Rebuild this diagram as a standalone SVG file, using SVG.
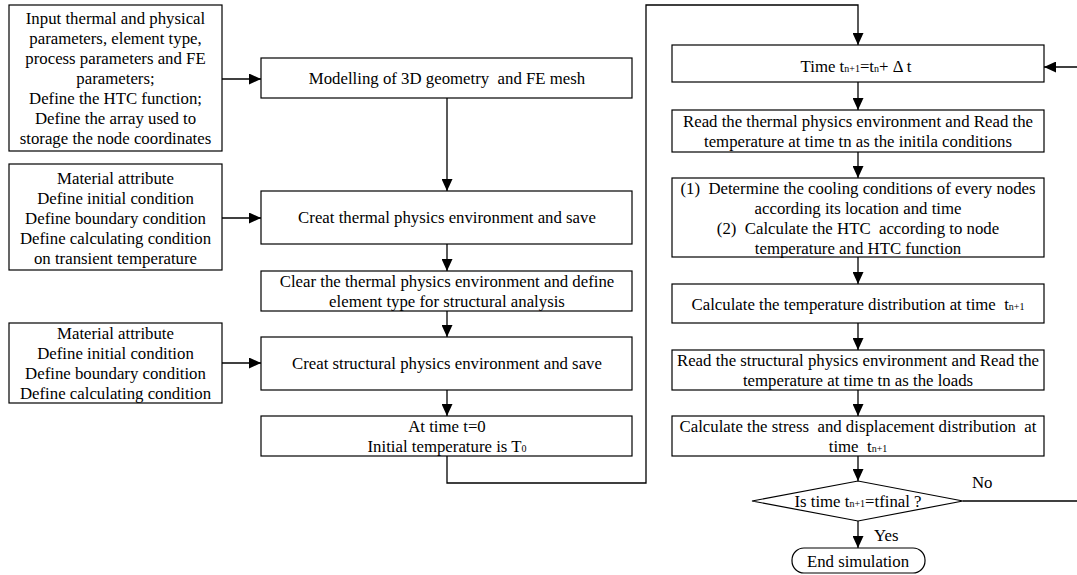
<svg xmlns="http://www.w3.org/2000/svg" width="1077" height="575" viewBox="0 0 1077 575">
<style>
  .box { fill: #ffffff; stroke: #000000; stroke-width: 1.2; }
  .t { font-family: 'Liberation Serif', 'Times New Roman', Times, 'DejaVu Serif', serif; font-size: 16.8px; fill: #000000; text-anchor: middle; }
  .l { font-family: 'Liberation Serif', 'Times New Roman', Times, 'DejaVu Serif', serif; font-size: 16.8px; fill: #000000; }
  .sub { font-size: 10px; }
  .conn { fill: none; stroke: #000000; stroke-width: 1.3; }
</style>
<defs>
  <marker id="arr" markerUnits="userSpaceOnUse" markerWidth="12" markerHeight="11" refX="12" refY="5.5" orient="auto">
    <path d="M0,0 L12,5.5 L0,11 z" fill="#000000"/>
  </marker>
</defs>
<rect width="1077" height="575" fill="#ffffff"/>

<g id="connectors">
  <line class="conn" x1="222" y1="79" x2="261" y2="79" marker-end="url(#arr)"/>
  <line class="conn" x1="222" y1="218" x2="261" y2="218" marker-end="url(#arr)"/>
  <line class="conn" x1="222" y1="363" x2="261" y2="363" marker-end="url(#arr)"/>
  <line class="conn" x1="447" y1="98" x2="447" y2="191" marker-end="url(#arr)"/>
  <line class="conn" x1="447" y1="244" x2="447" y2="271" marker-end="url(#arr)"/>
  <line class="conn" x1="447" y1="311" x2="447" y2="337" marker-end="url(#arr)"/>
  <line class="conn" x1="447" y1="390" x2="447" y2="416" marker-end="url(#arr)"/>
  <polyline class="conn" points="447,456 447,483 646,483 646,5 858,5 858,45" marker-end="url(#arr)"/>
  <line class="conn" x1="858" y1="82" x2="858" y2="110" marker-end="url(#arr)"/>
  <line class="conn" x1="858" y1="152" x2="858" y2="178" marker-end="url(#arr)"/>
  <line class="conn" x1="858" y1="257" x2="858" y2="284" marker-end="url(#arr)"/>
  <line class="conn" x1="858" y1="323" x2="858" y2="350" marker-end="url(#arr)"/>
  <line class="conn" x1="858" y1="390" x2="858" y2="416" marker-end="url(#arr)"/>
  <line class="conn" x1="858" y1="456" x2="858" y2="481" marker-end="url(#arr)"/>
  <line class="conn" x1="858" y1="521" x2="858" y2="548" marker-end="url(#arr)"/>
  <line class="conn" x1="963" y1="501" x2="1077" y2="501"/>
  <line class="conn" x1="1077" y1="67" x2="1044" y2="67" marker-end="url(#arr)"/>
  <text class="l" x="972" y="488">No</text>
  <text class="l" x="874" y="541">Yes</text>
</g>

<g id="input-params">
  <rect class="box" x="9" y="5" width="213" height="146"/>
  <text class="t" x="115.5" y="24">Input thermal and physical</text>
  <text class="t" x="115.5" y="44">parameters, element type,</text>
  <text class="t" x="115.5" y="64">process parameters and FE</text>
  <text class="t" x="115.5" y="84">parameters;</text>
  <text class="t" x="115.5" y="104">Define the HTC function;</text>
  <text class="t" x="115.5" y="124">Define the array used to</text>
  <text class="t" x="115.5" y="144">storage the node coordinates</text>
</g>

<g id="thermal-attr">
  <rect class="box" x="9" y="164" width="213" height="106"/>
  <text class="t" x="115.5" y="184">Material attribute</text>
  <text class="t" x="115.5" y="204">Define initial condition</text>
  <text class="t" x="115.5" y="224">Define boundary condition</text>
  <text class="t" x="115.5" y="244">Define calculating condition</text>
  <text class="t" x="115.5" y="264">on transient temperature</text>
</g>

<g id="struct-attr">
  <rect class="box" x="9" y="323" width="213" height="80"/>
  <text class="t" x="115.5" y="339">Material attribute</text>
  <text class="t" x="115.5" y="359">Define initial condition</text>
  <text class="t" x="115.5" y="379">Define boundary condition</text>
  <text class="t" x="115.5" y="399">Define calculating condition</text>
</g>

<g id="modelling">
  <rect class="box" x="261" y="58" width="371" height="40"/>
  <text class="t" x="447" y="84" xml:space="preserve">Modelling of 3D geometry  and FE mesh</text>
</g>

<g id="creat-thermal">
  <rect class="box" x="261" y="191" width="371" height="53"/>
  <text class="t" x="447" y="223">Creat thermal physics environment and save</text>
</g>

<g id="clear-thermal">
  <rect class="box" x="261" y="271" width="371" height="40"/>
  <text class="t" x="447" y="287">Clear the thermal physics environment and define</text>
  <text class="t" x="447" y="307">element type for structural analysis</text>
</g>

<g id="creat-structural">
  <rect class="box" x="261" y="337" width="371" height="53"/>
  <text class="t" x="447" y="369">Creat structural physics environment and save</text>
</g>

<g id="time-zero">
  <rect class="box" x="261" y="416" width="371" height="40"/>
  <text class="t" x="447" y="432">At time t=0</text>
  <text class="t" x="447" y="452">Initial temperature is T<tspan class="sub">0</tspan></text>
</g>

<g id="time-step">
  <rect class="box" x="672" y="45" width="372" height="37"/>
  <text class="t" x="856" y="72" xml:space="preserve">Time t<tspan class="sub">n+1</tspan>=t<tspan class="sub">n</tspan>+ Δ t</text>
</g>

<g id="read-thermal">
  <rect class="box" x="672" y="110" width="372" height="42"/>
  <text class="t" x="858" y="127">Read the thermal physics environment and Read the</text>
  <text class="t" x="858" y="147">temperature at time tn as the initila conditions</text>
</g>

<g id="determine">
  <rect class="box" x="672" y="178" width="372" height="79"/>
  <text class="t" x="858" y="194" xml:space="preserve">(1)  Determine the cooling conditions of every nodes</text>
  <text class="t" x="858" y="214">according its location and time</text>
  <text class="t" x="858" y="234" xml:space="preserve">(2)  Calculate the HTC  according to node</text>
  <text class="t" x="858" y="254">temperature and HTC function</text>
</g>

<g id="calc-temp">
  <rect class="box" x="672" y="284" width="372" height="39"/>
  <text class="t" x="858" y="310" xml:space="preserve">Calculate the temperature distribution at time  t<tspan class="sub">n+1</tspan></text>
</g>

<g id="read-structural">
  <rect class="box" x="672" y="350" width="372" height="40"/>
  <text class="t" x="858" y="366">Read the structural physics environment and Read the</text>
  <text class="t" x="858" y="386">temperature at time tn as the loads</text>
</g>

<g id="calc-stress">
  <rect class="box" x="672" y="416" width="372" height="40"/>
  <text class="t" x="858" y="432" xml:space="preserve">Calculate the stress  and displacement distribution  at</text>
  <text class="t" x="858" y="452" xml:space="preserve">time  t<tspan class="sub">n+1</tspan></text>
</g>

<g id="decision">
  <polygon class="box" points="752,501 858,481 963,501 858,521"/>
  <text class="t" x="858" y="507">Is time t<tspan class="sub">n+1</tspan>=tfinal ?</text>
</g>

<g id="end">
  <rect class="box" x="792" y="548" width="133" height="25" rx="12" ry="12"/>
  <text class="t" x="858" y="567">End simulation</text>
</g>
</svg>
